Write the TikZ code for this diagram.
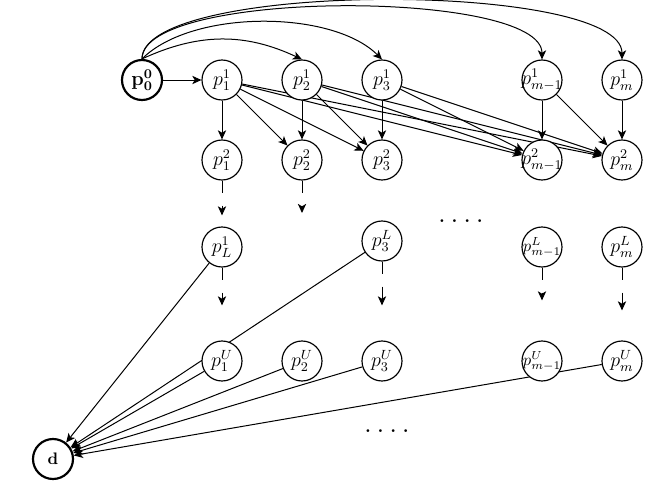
\documentclass[tikz,border=0pt]{standalone}
\usepackage{amsmath}
\usepackage{amssymb}
\usetikzlibrary{arrows, arrows.meta, backgrounds}
\newcommand{\vlab}[1]{\makebox[0pt]{$#1$}}
\newcommand{\fourdots}{\LARGE$\ldotp\ldotp\ldotp\ldotp$}

\begin{document}
\begin{tikzpicture}[x=0.6pt, y=-0.6pt, >={Stealth[length=5.5pt,width=5pt,inset=1.5pt]}]
\tikzstyle{vertex}=[circle, draw, fill=white, line width=0.7pt, minimum size=24pt, inner sep=0pt, font=\large]
\tikzstyle{thickvertex}=[vertex, line width=1.3pt]
\tikzstyle{hop}=[->, line width=0.6pt]
\tikzstyle{gapped}=[->, line width=0.6pt, dash pattern=on 7.2pt off 7.8pt]

\useasboundingbox (0,0) rectangle (664,485);

\node[thickvertex] (s) at (142,80) {$\mathbf{p_0^0}$};
\node[thickvertex, font=\normalsize] (d) at (53,459) {$\mathbf{d}$};

\foreach \i/\x/\k/\f in {1/222/1/\large, 2/302/2/\large, 3/382/3/\large, 4/542/{m-1}/\normalsize, 5/622/m/\large} {
   \node[vertex] (a\i) at (\x,80) {\vlab{p^1_{\k}}};
   \node[vertex] (b\i) at (\x,160) {\vlab{p^2_{\k}}};
   \node[vertex, font=\f] (u\i) at (\x,361) {\vlab{p^U_{\k}}};
}

\node[vertex] (l1) at (222,247) {\vlab{p^1_L}};
\node[vertex] (l3) at (382,241) {\vlab{p^L_3}};
\node[vertex, font=\normalsize] (l4) at (542,247) {\vlab{p^L_{m-1}}};
\node[vertex] (l5) at (622,247) {\vlab{p^L_m}};
\coordinate (l2) at (302,213);

\node (dotsL) at (461,221) {\fourdots};
\node (dotsU) at (387,431) {\fourdots};

\begin{pgfonlayer}{background}
\draw[hop] (s) -- (a1);
\draw[hop] (s.north) to[bend left=25] (a2.north);
\draw[hop] (s.north) to[out=45, in=135, looseness=.75] (a3.north);
\draw[hop] (s.north) to[out=90, in=90, looseness=.45] (a4.north);
\draw[hop] (s.north) to[out=90, in=90, looseness=.42] (a5.north);

\foreach \i in {1,...,5}
   \foreach \j in {\i,...,5}
      \draw[hop] (a\i) -- (b\j);

\draw[gapped, shorten >=6.6pt] (b1) -- (l1);
\draw[gapped] (b2) -- (l2);
\draw[gapped, shorten >=21pt] (l1) -- (u1);
\draw[gapped, shorten >=21pt] (l3) -- (u3);
\draw[gapped, shorten >=24pt] (l4) -- (u4);
\draw[gapped, shorten >=18pt] (l5) -- (u5);

\foreach \n in {l1,l3,u1,u2,u3,u5}
   \draw[hop] (\n) -- (d);
\end{pgfonlayer}
\end{tikzpicture}
\end{document}
